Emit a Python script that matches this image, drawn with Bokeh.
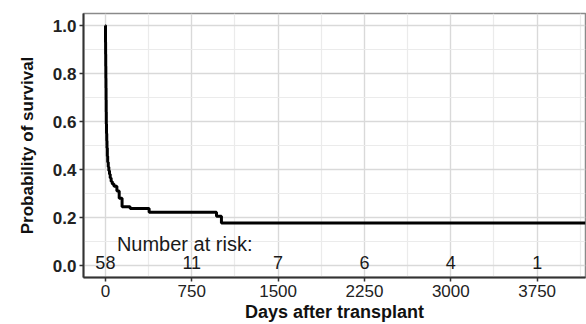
from bokeh.plotting import figure
from bokeh.models import FixedTicker, PrintfTickFormatter, Range1d
from bokeh.core.properties import value
from bokeh.embed import file_html
from bokeh.resources import INLINE

# Kaplan-Meier estimate (days, survival probability)
km_days = [0, 1, 2, 3, 4, 5, 6, 7, 8, 10, 12, 14, 17, 20, 25, 30, 36, 42, 50,
           60, 75, 100, 120, 145, 215, 380, 965, 1008, 4170]
km_surv = [1.0, 0.93, 0.88, 0.83, 0.78, 0.74, 0.69, 0.64, 0.59, 0.55, 0.52, 0.49,
           0.455, 0.43, 0.41, 0.395, 0.38, 0.365, 0.35, 0.34, 0.33, 0.31, 0.28,
           0.245, 0.238, 0.222, 0.205, 0.177, 0.177]

# Number at risk table
risk_days = [0, 750, 1500, 2250, 3000, 3750]
risk_counts = ["58", "11", "7", "6", "4", "1"]

x_ticks = [0, 750, 1500, 2250, 3000, 3750]
x_minor = [375, 1125, 1875, 2625, 3375, 4125]
y_ticks = [0.0, 0.2, 0.4, 0.6, 0.8, 1.0]
y_minor = [0.1, 0.3, 0.5, 0.7, 0.9]

FONT = "Liberation Sans"

p = figure(width=586, height=324, output_backend="svg", toolbar_location=None,
           x_range=Range1d(-190, 4170), y_range=Range1d(-0.05, 1.05),
           min_border_left=83, min_border_right=1, min_border_top=13,
           min_border_bottom=44)

p.background_fill_color = "white"
p.border_fill_color = "white"
p.outline_line_color = "#8a8a8a"
p.outline_line_width = 1.5

p.xaxis.ticker = FixedTicker(ticks=x_ticks, minor_ticks=x_minor)
p.yaxis.ticker = FixedTicker(ticks=y_ticks, minor_ticks=y_minor)
p.yaxis.formatter = PrintfTickFormatter(format="%.1f")

for g in (p.xgrid, p.ygrid):
    g.grid_line_color = "#d9d9d9"
    g.grid_line_width = 1.4
    g.minor_grid_line_color = "#ebebeb"
    g.minor_grid_line_width = 1.2

for ax in (p.xaxis, p.yaxis):
    ax.axis_line_color = "#333333"
    ax.axis_line_width = 2
    ax.major_tick_line_color = "#333333"
    ax.major_tick_line_width = 1.5
    ax.major_tick_out = 4
    ax.major_tick_in = 0
    ax.minor_tick_out = 0
    ax.minor_tick_in = 0
    ax.major_label_text_font = FONT
    ax.major_label_text_color = "#222222"
    ax.axis_label_text_font = FONT
    ax.axis_label_text_font_style = "bold"
    ax.axis_label_text_color = "#111111"
    ax.major_label_standoff = 3

p.xaxis.major_label_text_font_size = "17px"
p.yaxis.major_label_text_font_size = "17px"
p.yaxis.major_label_text_font_style = "bold"
p.xaxis.axis_label = "Days after transplant"
p.yaxis.axis_label = "Probability of survival"
p.xaxis.axis_label_text_font_size = "18px"
p.yaxis.axis_label_text_font_size = "17px"
p.xaxis.axis_label_standoff = 2
p.yaxis.axis_label_standoff = 13

p.step(km_days, km_surv, mode="after", line_color="black", line_width=3)

p.text(x=risk_days, y=[0.012] * len(risk_days), text=risk_counts,
       text_align="center", text_baseline="middle",
       text_font=value(FONT), text_font_size="18px", text_color="#1a1a1a")
p.text(x=[100], y=[0.09], text=["Number at risk:"],
       text_align="left", text_baseline="middle",
       text_font=value(FONT), text_font_size="20px", text_color="#1a1a1a")

open("out.html", "w").write(file_html(p, INLINE))
